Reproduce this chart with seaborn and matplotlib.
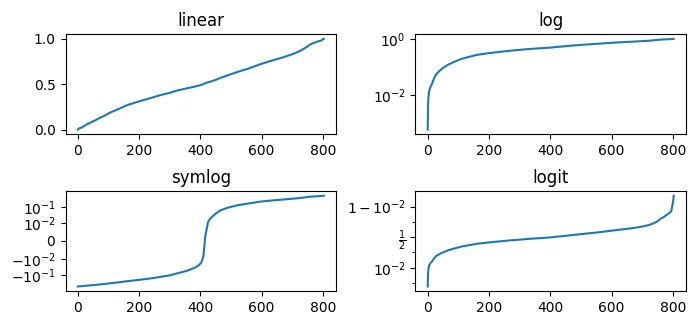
import numpy as np
import matplotlib
matplotlib.use("Agg")
import matplotlib.pyplot as plt
import seaborn as sns
from matplotlib.ticker import NullFormatter

# sorted sample values (index, value)
idx = [0, 1, 2, 5, 10, 14, 20, 28, 38, 47, 58, 69, 85, 107, 135, 161, 199,
       240, 270, 300, 324, 357, 380, 390, 398, 404, 410, 416, 425, 433, 450,
       466, 490, 520, 560, 596, 629, 670, 705, 725, 738, 750, 760, 772, 781,
       790, 795, 798, 801, 803]
vals = [0.0006, 0.0035, 0.0075, 0.0145, 0.021, 0.025, 0.038, 0.056, 0.072,
        0.087, 0.105, 0.125, 0.15, 0.19, 0.23, 0.27, 0.31, 0.35, 0.38, 0.405,
        0.43, 0.455, 0.472, 0.48, 0.487, 0.493, 0.500, 0.511, 0.52, 0.528,
        0.547, 0.57, 0.598, 0.633, 0.675, 0.72, 0.755, 0.795, 0.835, 0.865,
        0.89, 0.915, 0.94, 0.955, 0.967, 0.975, 0.98, 0.99, 0.995, 0.998]
titles = ["linear", "log", "symlog", "logit"]

x = np.array(idx, dtype=float)
y = np.array(vals)
y_mean = np.trapezoid(y, x) / (x[-1] - x[0])

fig, axes = plt.subplots(2, 2, figsize=(7.0, 3.27), dpi=100)
fig.subplots_adjust(left=0.0936, right=0.98, top=0.895, bottom=0.110,
                    wspace=0.293, hspace=0.572)

ax = axes[0, 0]
ax.set_yscale("linear")
sns.lineplot(x=x, y=y, ax=ax, color="C0")
ax.set_title(titles[0])

ax = axes[0, 1]
ax.set_yscale("log")
sns.lineplot(x=x, y=y, ax=ax, color="C0")
ax.set_title(titles[1])

ax = axes[1, 0]
ax.set_yscale("symlog", linthresh=0.01)
sns.lineplot(x=x, y=y - y_mean, ax=ax, color="C0")
ax.set_title(titles[2])

ax = axes[1, 1]
ax.set_yscale("logit")
sns.lineplot(x=x, y=y, ax=ax, color="C0")
ax.set_title(titles[3])
ax.yaxis.set_minor_formatter(NullFormatter())

for a in axes.flat:
    a.set_xlabel("")
    a.set_ylabel("")
    a.set_xticks([0, 200, 400, 600, 800])
    a.margins(y=0.05)
    a.autoscale_view()

fig.savefig("out.png", dpi=100)
